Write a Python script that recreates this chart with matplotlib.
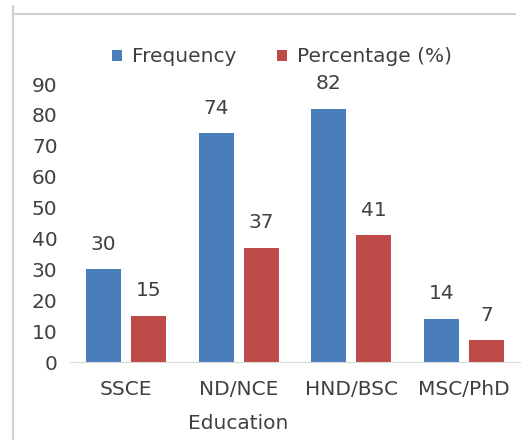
import numpy as np
import matplotlib
matplotlib.use("Agg")
import matplotlib.pyplot as plt
from matplotlib.lines import Line2D

plt.rcParams["font.family"] = ["DejaVu Sans"]

categories = ["SSCE", "ND/NCE", "HND/BSC", "MSC/PhD"]
frequency = [30, 74, 82, 14]
percentage = [15, 37, 41, 7]

BLUE = "#4A7EBB"
RED = "#BE4B48"
TEXT = "#404040"
FS = 14.5

W, H = 526, 440
fig = plt.figure(figsize=(W / 100, H / 100), dpi=100)
ax = fig.add_axes([70 / W, 1 - 362 / H, 450 / W, (362 - 84) / H])

x = np.arange(len(categories))
width = 0.31
b1 = ax.bar(x - 0.2, frequency, width, color=BLUE, label="Frequency")
b2 = ax.bar(x + 0.2, percentage, width, color=RED, label="Percentage (%)")

for bars, vals in ((b1, frequency), (b2, percentage)):
    for bar, v in zip(bars, vals):
        ax.annotate(str(v), (bar.get_x() + bar.get_width() / 2, v),
                    xytext=(0, 18), textcoords="offset points",
                    ha="center", va="center", fontsize=FS, color=TEXT)

ax.set_xlim(-0.5, len(categories) - 0.5)
ax.set_ylim(0, 90)
ax.set_yticks(range(0, 91, 10))
ax.set_xticks(x)
ax.set_xticklabels(categories)
ax.tick_params(axis="both", length=0, labelsize=FS, labelcolor=TEXT)
ax.tick_params(axis="x", pad=13)
ax.tick_params(axis="y", pad=9)

for side in ("top", "right", "left"):
    ax.spines[side].set_visible(False)
ax.spines["bottom"].set_color("#d9d9d9")

ax.set_xlabel("Education", fontsize=FS, color=TEXT)
ax.xaxis.set_label_coords((238 - 70) / 450, -(423 - 362) / (362 - 84), transform=ax.transAxes)
ax.xaxis.label.set_va("center")

fig.legend(handles=[b1, b2], loc="center", bbox_to_anchor=(282 / W, 1 - 57 / H),
           ncol=2, frameon=False, fontsize=FS, labelcolor=TEXT, borderpad=0,
           handlelength=0.5, handleheight=0.5, handletextpad=0.5, columnspacing=2.0)

# faint chart frame
fig.add_artist(Line2D([13 / W, 13 / W], [0, 1 - 6 / H], color="#d0d0d0", lw=1.5))
fig.add_artist(Line2D([14 / W, 515 / W], [1 - 14 / H, 1 - 14 / H], color="#d0d0d0", lw=1.5))

fig.savefig("out.png", dpi=100)
